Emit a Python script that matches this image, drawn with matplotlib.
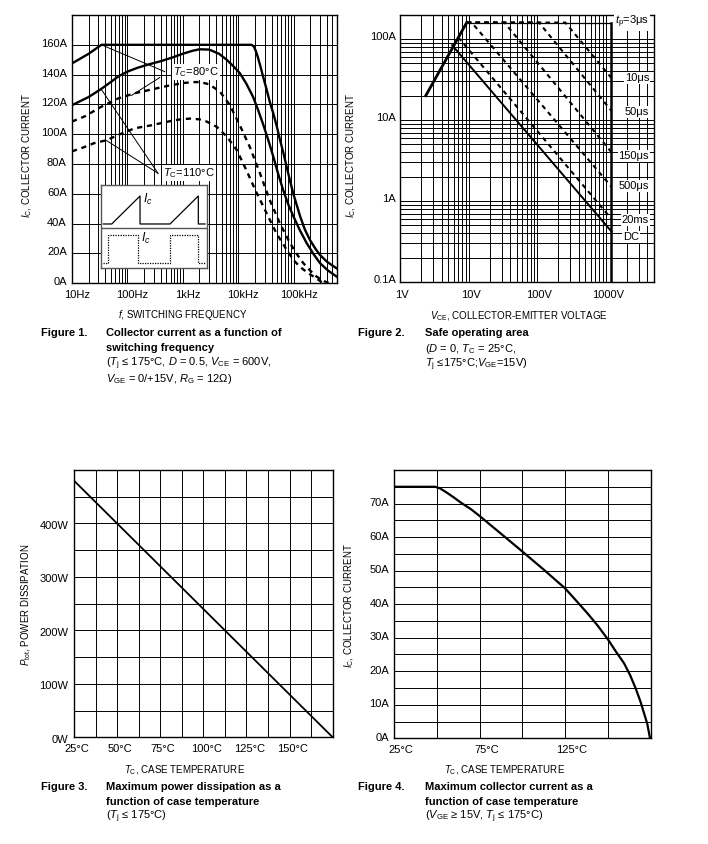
import matplotlib
matplotlib.use('Agg')
import matplotlib.pyplot as plt
import matplotlib.ticker as mticker
import matplotlib.transforms as mtransforms

plt.rcParams['font.family'] = ['Liberation Sans', 'DejaVu Sans']
plt.rcParams['mathtext.fontset'] = 'custom'
plt.rcParams['mathtext.rm'] = 'Liberation Sans'
plt.rcParams['mathtext.it'] = 'Liberation Sans:italic'
plt.rcParams['mathtext.bf'] = 'Liberation Sans:bold'

# ---- Figure 1 data: collector current vs switching frequency ----
f_tri80 = [10, 20, 34, 17500, 19000, 20500, 22500, 25000, 28000, 32600, 37000, 43000, 50000, 57000,
           66000, 75000, 86000, 99000, 115000, 131000, 160000, 198000, 250000, 300000, 400000, 500000, 600000]
i_tri80 = [147.5, 154, 160, 160, 159, 156.5, 152, 146, 139, 130, 122, 114, 105, 96,
           87, 78, 69, 60, 52, 45, 36, 29, 23, 19, 14.5, 12, 10]
f_tri110 = [10, 20, 34, 50, 70, 100, 150, 250, 400, 650, 1000, 1500, 2000, 3000, 4500, 6200, 8000,
            10700, 14000, 18600, 23000, 28000, 35000, 43000, 53000, 65000, 80000, 99000, 130000,
            172000, 230000, 300000, 420000, 600000]
i_tri110 = [119.5, 125, 130.5, 135, 139, 142, 144.5, 147, 149, 151.5, 154, 156, 157, 156.8, 154, 150, 146,
            141, 134, 125, 116, 107, 96, 85, 73, 62.5, 53, 45, 35.5,
            27, 19.5, 13.5, 8.5, 4.5]
f_sq80 = [10, 17, 34, 68, 135, 270, 540, 1000, 1500, 2050, 3000, 4700, 7100, 10700, 16200, 24600,
          37000, 57000, 86000, 120000, 150000, 200000, 260000, 350000, 450000]
i_sq80 = [108.5, 112, 118.5, 124, 127.5, 130, 132.5, 134.3, 135, 135, 133.5, 128.5, 119.5, 106, 91.5, 74,
          56, 40, 27, 18.5, 13.5, 8.5, 4.5, 1.5, 0]
f_sq110 = [10, 17, 25, 42, 68, 100, 135, 270, 540, 900, 1350, 2000, 2700, 4100, 6200, 9400, 14000,
           21000, 32600, 49000, 75000, 100000, 131000, 180000, 230000, 290000, 340000]
i_sq110 = [88.5, 91.5, 94, 96, 99.5, 102, 104, 106, 108.5, 110, 110.5, 110, 108.5, 105, 98.5, 89.5, 76,
           61.5, 47, 33.5, 22.5, 15.5, 11, 7, 4.5, 2, 0]
freq_ticks = [10, 100, 1e3, 1e4, 1e5]
freq_labels = ['10Hz', '100Hz', '1kHz', '10kHz', '100kHz']
cur1_ticks = [0, 20, 40, 60, 80, 100, 120, 140, 160]

# inset waveforms (schematic, inset units)
wave_t_tri = [0.025, 0.104, 0.371, 0.371, 0.654, 0.921, 0.921, 0.984]
wave_tri = [0.532, 0.532, 0.868, 0.532, 0.532, 0.868, 0.532, 0.532]
wave_t_sq = [0.025, 0.072, 0.072, 0.355, 0.355, 0.654, 0.654, 0.921, 0.921, 0.984]
wave_sq = [0.06, 0.06, 0.40, 0.40, 0.06, 0.06, 0.40, 0.40, 0.06, 0.06]

# ---- Figure 2 data: safe operating area ----
v_rise = [2.35, 9.3]
i_rise = [20, 160]
v_env = [9.3, 1200, 1200]
i_env = [160, 160, 0.1]
pulse_v = {'10us': [9.3, 255, 1200], '50us': [9.3, 105, 1200], '150us': [9.3, 33, 1200],
           '500us': [9.3, 11, 1200], '20ms': [7, 1200]}
pulse_i = {'10us': [160, 160, 33], '50us': [160, 160, 13], '150us': [160, 160, 4],
           '500us': [160, 160, 1.5], '20ms': [105, 0.6]}
v_dc = [5.7, 1200]
i_dc = [84, 0.42]
volt_ticks = [1, 10, 100, 1000]
volt_labels = ['1V', '10V', '100V', '1000V']
cur2_ticks = [0.1, 1, 10, 100]
cur2_labels = ['0.1A', '1A', '10A', '100A']

# ---- Figure 3 data: power dissipation ----
tc3 = [25, 175]
ptot = [480, 0]

# ---- Figure 4 data: max collector current ----
tc4 = [25, 49, 52, 56, 60, 64, 70, 75, 87.3, 100, 112.7, 125, 131, 138, 144, 150, 155, 159.4, 163,
       166.2, 169, 171.1, 173, 174.6]
ic4 = [75, 75, 74.5, 73.2, 71.8, 70.3, 68.3, 66.3, 61.1, 55.7, 50.2, 44.7, 41.3, 37.3, 33.6, 29.5, 25.6,
       22.4, 18.8, 14.9, 11, 7.5, 4.3, 0]

W, H = 708, 844
fig = plt.figure(figsize=(W / 100, H / 100), dpi=100)


def box(l, t, r, b):
    return [l / W, 1 - b / H, (r - l) / W, (b - t) / H]


def ftext(x, y, s, **kw):
    kw.setdefault('va', 'center')
    return fig.text(x / W, 1 - y / H, s, **kw)


def style(ax, xpad, ypad):
    ax.set_axisbelow(True)
    ax.grid(which='both', color='black', linewidth=0.7)
    ax.tick_params(which='both', length=0, labelsize=8)
    ax.tick_params(axis='x', pad=xpad)
    ax.tick_params(axis='y', pad=ypad)
    for s in ax.spines.values():
        s.set_linewidth(1.0)


def shift(labels, dx, dy):
    off = mtransforms.ScaledTranslation(dx / 100, -dy / 100, fig.dpi_scale_trans)
    for lab in labels:
        lab.set_transform(lab.get_transform() + off)


DASH = (0, (2.2, 2.0))

# ================= Figure 1 =================
ax1 = fig.add_axes(box(72, 15, 336.7, 283.3))
ax1.set_xscale('log')
ax1.set_xlim(10, 6e5)
ax1.set_ylim(0, 180)
ax1.set_xticks(freq_ticks, labels=freq_labels)
ax1.xaxis.set_minor_locator(mticker.LogLocator(base=10, subs=range(2, 10), numticks=30))
ax1.xaxis.set_minor_formatter(mticker.NullFormatter())
ax1.set_yticks(cur1_ticks, labels=[f'{v}A' for v in cur1_ticks])
style(ax1, 4.7, 3.8)
shift(ax1.get_xticklabels(), 5, 0)
shift(ax1.get_yticklabels(), 0, -2)

ax1.plot(f_tri80, i_tri80, color='black', lw=1.7, zorder=3)
ax1.plot(f_tri110, i_tri110, color='black', lw=1.7, zorder=3)
ax1.plot(f_sq80, i_sq80, color='black', lw=1.7, ls=DASH, zorder=3)
ax1.plot(f_sq110, i_sq110, color='black', lw=1.7, ls=DASH, zorder=3)

# leader lines and labels
for src, dst in [((471, 142), (34, 160)), ((383, 138), (118, 126)),
                 ((357, 73.8), (34, 130)), ((357, 73.8), (41, 96))]:
    ax1.plot([src[0], dst[0]], [src[1], dst[1]], color='black', lw=0.7, zorder=4)
ax1.text(665, 141.8, r'$T_\mathrm{C}$=80°C', fontsize=8, va='center', ha='left', zorder=5,
         bbox=dict(facecolor='white', edgecolor='none', pad=0.8))
ax1.text(440, 73.8, r'$T_\mathrm{C}$=110°C', fontsize=8, va='center', ha='left', zorder=5,
         bbox=dict(facecolor='white', edgecolor='none', pad=0.8))

# inset with waveforms
axi = fig.add_axes(box(100.7, 185, 206.7, 268.3))
axi.set_xlim(0, 1)
axi.set_ylim(0, 1)
axi.set_xticks([])
axi.set_yticks([])
axi.set_facecolor('white')
for s in axi.spines.values():
    s.set_edgecolor('#555555')
    s.set_linewidth(1.0)
axi.axhline(0.48, color='#555555', lw=1.0)
axi.plot(wave_t_tri, wave_tri, color='black', lw=0.9)
axi.plot(wave_t_sq, wave_sq, color='black', lw=0.9, ls=(0, (1, 1)))
axi.text(0.40, 0.83, r'$I_c$', fontsize=9, ha='left', va='center')
axi.text(0.38, 0.36, r'$I_c$', fontsize=9, ha='left', va='center')

ftext(27, 155, r'$I_\mathrm{C}$, COLLECTOR CURRENT', rotation=90, fontsize=7, ha='center')
ftext(183, 315, r'$f$, SWITCHING FREQUENCY', fontsize=7, ha='center')
ftext(40.7, 333, 'Figure 1.', fontsize=8, weight='bold')
ftext(106, 333, 'Collector current as a function of', fontsize=8, weight='bold')
ftext(106, 348, 'switching frequency', fontsize=8, weight='bold')
ftext(106, 363.5, r'($T_\mathrm{j}$ ≤ 175°C, $D$ = 0.5, $V_\mathrm{CE}$ = 600V,', fontsize=8)
ftext(106, 379, r'$V_\mathrm{GE}$ = 0/+15V, $R_\mathrm{G}$ = 12Ω)', fontsize=8)

# ================= Figure 2 =================
ax2 = fig.add_axes(box(400.3, 14.7, 654, 282))
ax2.set_xscale('log')
ax2.set_yscale('log')
ax2.set_xlim(1, 5000)
ax2.set_ylim(0.1, 200)
ax2.set_xticks(volt_ticks, labels=volt_labels)
ax2.set_yticks(cur2_ticks, labels=cur2_labels)
for axis in (ax2.xaxis, ax2.yaxis):
    axis.set_minor_locator(mticker.LogLocator(base=10, subs=range(2, 10), numticks=30))
    axis.set_minor_formatter(mticker.NullFormatter())
style(ax2, 5.4, 3.1)
shift(ax2.get_xticklabels(), 2, 0)
shift(ax2.get_yticklabels(), 0, -3)

ax2.plot(v_rise, i_rise, color='black', lw=2.0, zorder=3)
ax2.plot(v_env[:2], i_env[:2], color='black', lw=0.9, zorder=3)
ax2.plot(v_env[1:], i_env[1:], color='black', lw=1.8, zorder=3)
for key in pulse_v:
    ax2.plot(pulse_v[key], pulse_i[key], color='black', lw=1.5, ls=DASH, zorder=3)
ax2.plot(v_dc, i_dc, color='black', lw=1.4, zorder=3)

lab_bbox = dict(facecolor='white', edgecolor='none', pad=0.6)
ftext(649, 22, r'$t_\mathrm{p}$=3μs', fontsize=8, ha='right', bbox=lab_bbox)
ftext(649, 78, '10μs', fontsize=8, ha='right', bbox=lab_bbox)
ftext(649, 112, '50μs', fontsize=8, ha='right', bbox=lab_bbox)
ftext(649, 156, '150μs', fontsize=8, ha='right', bbox=lab_bbox)
ftext(649, 186, '500μs', fontsize=8, ha='right', bbox=lab_bbox)
ftext(649, 220, '20ms', fontsize=8, ha='right', bbox=lab_bbox)
ftext(623, 237, 'DC', fontsize=8, ha='left', bbox=lab_bbox)

ftext(351, 155, r'$I_\mathrm{C}$, COLLECTOR CURRENT', rotation=90, fontsize=7, ha='center')
ftext(519, 316, r'$V_\mathrm{CE}$, COLLECTOR-EMITTER VOLTAGE', fontsize=7, ha='center')
ftext(358, 333, 'Figure 2.', fontsize=8, weight='bold')
ftext(425, 333, 'Safe operating area', fontsize=8, weight='bold')
ftext(425, 349, r'($D$ = 0, $T_\mathrm{C}$ = 25°C,', fontsize=8)
ftext(425, 365, r'$T_\mathrm{j}$ ≤175°C;$V_\mathrm{GE}$=15V)', fontsize=8)

# ================= Figure 3 =================
ax3 = fig.add_axes(box(74, 470, 332.7, 737.3))
ax3.set_xlim(25, 175)
ax3.set_ylim(0, 500)
ax3.set_xticks([25, 50, 75, 100, 125, 150], labels=['25°C', '50°C', '75°C', '100°C', '125°C', '150°C'])
ax3.set_yticks([0, 100, 200, 300, 400], labels=['0W', '100W', '200W', '300W', '400W'])
ax3.xaxis.set_minor_locator(mticker.MultipleLocator(12.5))
ax3.yaxis.set_minor_locator(mticker.MultipleLocator(50))
style(ax3, 4.7, 4.1)
shift(ax3.get_xticklabels(), 3, 0)
shift(ax3.get_yticklabels(), 0, 1.5)
ax3.plot(tc3, ptot, color='black', lw=1.3, zorder=3)

ftext(26, 605, r'$P_\mathrm{tot}$, POWER DISSIPATION', rotation=90, fontsize=7, ha='center')
ftext(185, 770, r'$T_\mathrm{C}$, CASE TEMPERATURE', fontsize=7, ha='center')
ftext(40.7, 787, 'Figure 3.', fontsize=8, weight='bold')
ftext(106, 787, 'Maximum power dissipation as a', fontsize=8, weight='bold')
ftext(106, 802, 'function of case temperature', fontsize=8, weight='bold')
ftext(106, 817, r'($T_\mathrm{j}$ ≤ 175°C)', fontsize=8)

# ================= Figure 4 =================
ax4 = fig.add_axes(box(394, 470, 650.7, 738.3))
ax4.set_xlim(25, 175)
ax4.set_ylim(0, 80)
ax4.set_xticks([25, 75, 125], labels=['25°C', '75°C', '125°C'])
ax4.set_yticks(range(0, 71, 10), labels=[f'{v}A' for v in range(0, 71, 10)])
ax4.xaxis.set_minor_locator(mticker.MultipleLocator(25))
ax4.yaxis.set_minor_locator(mticker.MultipleLocator(5))
style(ax4, 4.7, 3.6)
shift(ax4.get_xticklabels(), 7, 0)
shift(ax4.get_yticklabels(), 0, -1.5)
ax4.plot(tc4, ic4, color='black', lw=1.6, zorder=3)

ftext(349, 605, r'$I_\mathrm{C}$, COLLECTOR CURRENT', rotation=90, fontsize=7, ha='center')
ftext(505, 770, r'$T_\mathrm{C}$, CASE TEMPERATURE', fontsize=7, ha='center')
ftext(358, 787, 'Figure 4.', fontsize=8, weight='bold')
ftext(424.7, 787, 'Maximum collector current as a', fontsize=8, weight='bold')
ftext(424.7, 802, 'function of case temperature', fontsize=8, weight='bold')
ftext(424.7, 817, r'($V_\mathrm{GE}$ ≥ 15V, $T_\mathrm{j}$ ≤ 175°C)', fontsize=8)

fig.savefig('out.png', dpi=100)
